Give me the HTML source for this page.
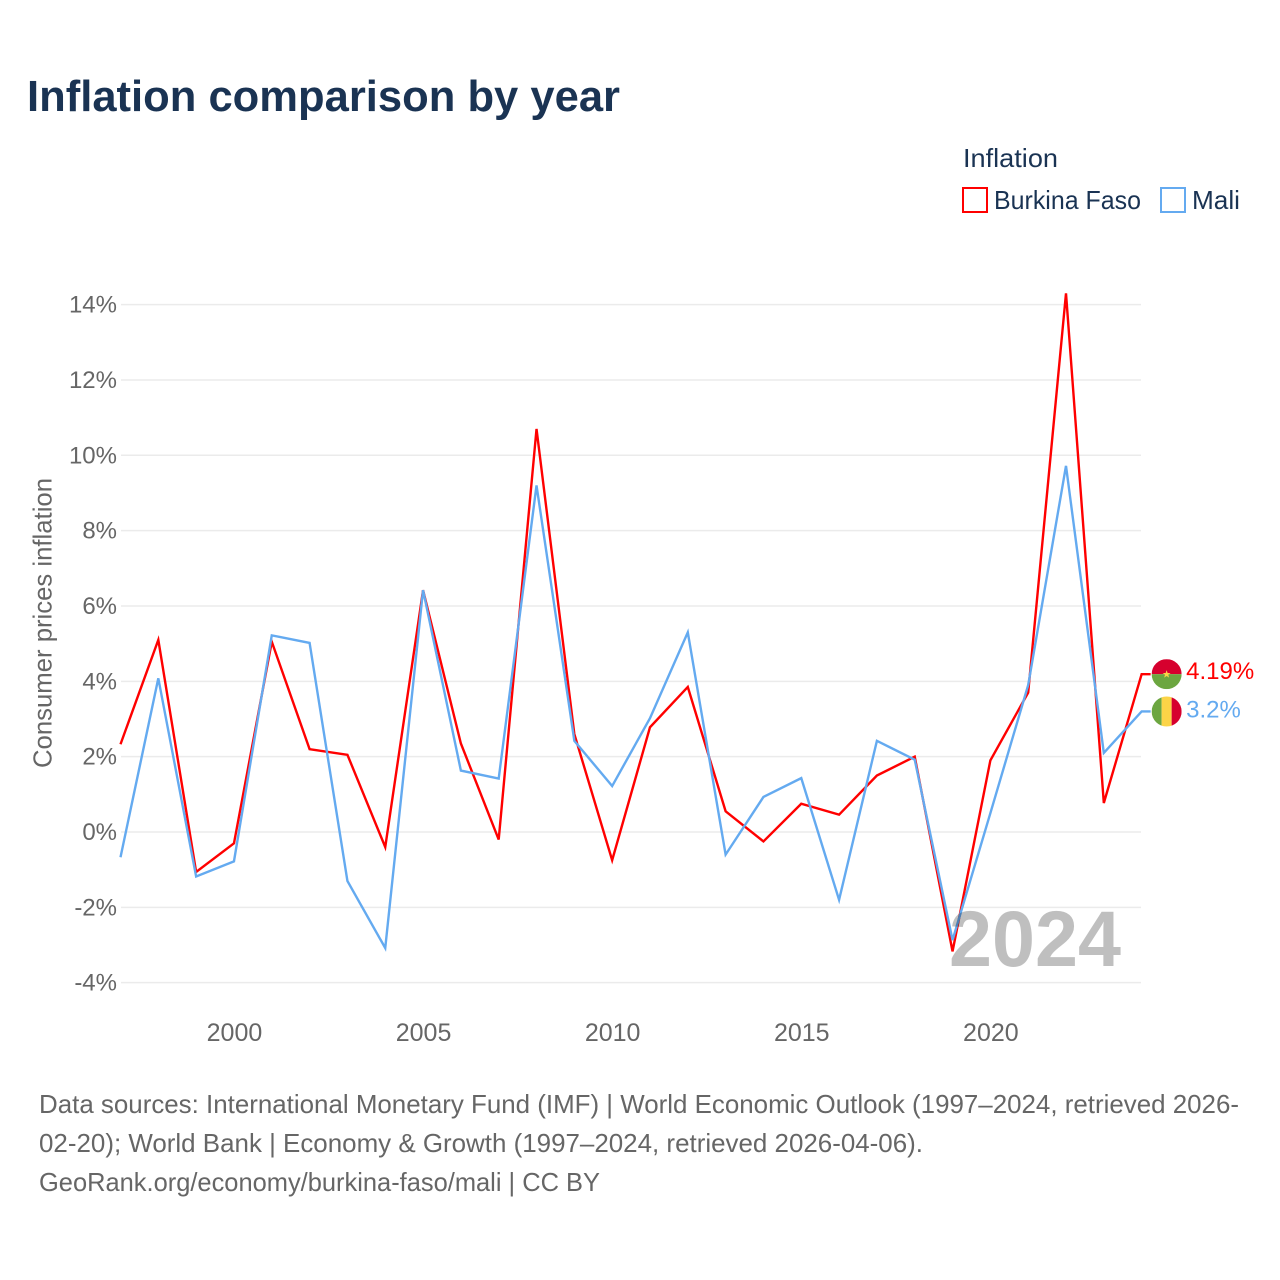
<!DOCTYPE html>
<html lang="en">
<head>
<meta charset="utf-8">
<title>Inflation comparison by year</title>
<style>
  html, body { margin: 0; padding: 0; background: #fff; }
  svg { display: block; font-family: "Liberation Sans", sans-serif; }
</style>
</head>
<body>
<svg id="chart" xmlns="http://www.w3.org/2000/svg" width="1280" height="1280" viewBox="0 0 1280 1280">
  <rect width="1280" height="1280" fill="#ffffff"/>
  <text x="27" y="111" font-size="44" font-weight="700" fill="#1a3353" textLength="593" lengthAdjust="spacingAndGlyphs">Inflation comparison by year</text>

  <g>
    <text x="963" y="167" font-size="26" fill="#1a3353" textLength="95" lengthAdjust="spacingAndGlyphs">Inflation</text>
    <rect x="963" y="188" width="24" height="24" fill="#fff" stroke="#ff0000" stroke-width="2"/>
    <text x="994" y="209" font-size="26" fill="#1a3353" textLength="147" lengthAdjust="spacingAndGlyphs">Burkina Faso</text>
    <rect x="1161" y="188" width="24" height="24" fill="#fff" stroke="#64aaf0" stroke-width="2"/>
    <text x="1192" y="209" font-size="26" fill="#1a3353" textLength="48" lengthAdjust="spacingAndGlyphs">Mali</text>
  </g>

  <text transform="translate(51.5,768) rotate(-90)" font-size="26" fill="#666666" textLength="290" lengthAdjust="spacingAndGlyphs">Consumer prices inflation</text>

  <g id="grid"></g>
  <g id="yticks"></g>
  <g id="xticks"></g>

  <g id="series"></g>
  <g id="endlabels"></g>

  <text x="949" y="966" font-size="79" font-weight="700" fill="#000000" fill-opacity="0.25" textLength="172" lengthAdjust="spacingAndGlyphs">2024</text>

  <g font-size="26" fill="#666666">
    <text x="39" y="1113" textLength="1200" lengthAdjust="spacingAndGlyphs">Data sources: International Monetary Fund (IMF) | World Economic Outlook (1997–2024, retrieved 2026-</text>
    <text x="39" y="1152" textLength="884" lengthAdjust="spacingAndGlyphs">02-20); World Bank | Economy &amp; Growth (1997–2024, retrieved 2026-04-06).</text>
    <text x="39" y="1191" textLength="561" lengthAdjust="spacingAndGlyphs">GeoRank.org/economy/burkina-faso/mali | CC BY</text>
  </g>
</svg>
<script>
const years = [1997,1998,1999,2000,2001,2002,2003,2004,2005,2006,2007,2008,2009,2010,2011,2012,2013,2014,2015,2016,2017,2018,2019,2020,2021,2022,2023,2024];
const burkinaFaso = [2.33,5.1,-1.06,-0.3,5.05,2.2,2.05,-0.4,6.42,2.35,-0.2,10.7,2.6,-0.75,2.78,3.85,0.55,-0.25,0.75,0.46,1.5,2.0,-3.17,1.9,3.7,14.3,0.77,4.19];
const mali = [-0.67,4.08,-1.18,-0.78,5.22,5.02,-1.3,-3.08,6.42,1.63,1.42,9.2,2.42,1.22,3.02,5.3,-0.6,0.93,1.43,-1.8,2.42,1.92,-2.87,0.5,3.9,9.72,2.1,3.2];
const yTickValues = [-4,-2,0,2,4,6,8,10,12,14];
const xTickValues = [2000,2005,2010,2015,2020];

const SVG_NS = 'http://www.w3.org/2000/svg';
function xScale(year) { return 120.5 + (year - 1997) * 37.82; }
function yScale(value) { return 832 - value * 37.67; }
function make(tag, parent) {
  const el = document.createElementNS(SVG_NS, tag);
  parent.appendChild(el);
  return el;
}
function linePoints(values) {
  const pts = values.map(function (v, i) { return xScale(years[i]).toFixed(2) + ',' + yScale(v).toFixed(2); });
  const last = values[values.length - 1];
  pts.push((xScale(years[years.length - 1]) + 9).toFixed(2) + ',' + yScale(last).toFixed(2));
  return pts.join(' ');
}

const gridGroup = document.getElementById('grid');
const yTickGroup = document.getElementById('yticks');
yTickValues.forEach(function (v) {
  const line = make('line', gridGroup);
  
  
  line.setAttribute('x1', 121);
  line.setAttribute('x2', 1141);
  line.setAttribute('y1', yScale(v));
  line.setAttribute('y2', yScale(v));
  line.setAttribute('stroke', '#ebebeb');
  line.setAttribute('stroke-width', '1.5');

  const label = make('text', yTickGroup);
  
  
  label.setAttribute('x', 117);
  label.setAttribute('y', yScale(v) + 8);
  label.setAttribute('text-anchor', 'end');
  label.setAttribute('font-size', '24');
  label.setAttribute('fill', '#666666');
  label.textContent = v + '%';
});

const xTickGroup = document.getElementById('xticks');
xTickValues.forEach(function (year) {
  const label = make('text', xTickGroup);
  
  
  label.setAttribute('x', xScale(year) + 0.5);
  label.setAttribute('y', 1041);
  label.setAttribute('text-anchor', 'middle');
  label.setAttribute('font-size', '25');
  label.setAttribute('fill', '#666666');
  label.textContent = String(year);
});

const seriesGroup = document.getElementById('series');
const burkinaLine = make('polyline', seriesGroup);


burkinaLine.setAttribute('points', linePoints(burkinaFaso));
burkinaLine.setAttribute('fill', 'none');
burkinaLine.setAttribute('stroke', '#ff0000');
burkinaLine.setAttribute('stroke-width', '2.4');

const maliLine = make('polyline', seriesGroup);


maliLine.setAttribute('points', linePoints(mali));
maliLine.setAttribute('fill', 'none');
maliLine.setAttribute('stroke', '#64aaf0');
maliLine.setAttribute('stroke-width', '2.4');

const endGroup = document.getElementById('endlabels');
const flagX = xScale(years[years.length - 1]) + 25;
const clip = make('clipPath', endGroup);
clip.setAttribute('id', 'flag-clip');
const clipCircle = make('circle', clip);
clipCircle.setAttribute('cx', 0);
clipCircle.setAttribute('cy', 0);
clipCircle.setAttribute('r', 15);

function flagStripe(parent, x, y, w, h, fill) {
  const r = make('rect', parent);
  r.setAttribute('x', x);
  r.setAttribute('y', y);
  r.setAttribute('width', w);
  r.setAttribute('height', h);
  r.setAttribute('fill', fill);
  return r;
}

const burkinaY = yScale(burkinaFaso[burkinaFaso.length - 1]);
const burkinaFlag = make('g', endGroup);


burkinaFlag.setAttribute('transform', 'translate(' + flagX + ',' + burkinaY + ')');
burkinaFlag.setAttribute('clip-path', 'url(#flag-clip)');
flagStripe(burkinaFlag, -15, -15, 30, 15, '#d6002e');
flagStripe(burkinaFlag, -15, 0, 30, 15, '#6ca640');
const star = make('polygon', burkinaFlag);


star.setAttribute('points', '0,-4 1,-1.2 4,-1.2 1.6,0.6 2.5,3.5 0,1.8 -2.5,3.5 -1.6,0.6 -4,-1.2 -1,-1.2');
star.setAttribute('fill', '#fcd447');

const burkinaValue = make('text', endGroup);


burkinaValue.setAttribute('x', flagX + 19.5);
burkinaValue.setAttribute('y', burkinaY + 5);
burkinaValue.setAttribute('font-size', '24');
burkinaValue.setAttribute('fill', '#ff0000');
burkinaValue.textContent = burkinaFaso[burkinaFaso.length - 1] + '%';

const maliY = yScale(mali[mali.length - 1]);
const maliFlag = make('g', endGroup);


maliFlag.setAttribute('transform', 'translate(' + flagX + ',' + maliY + ')');
maliFlag.setAttribute('clip-path', 'url(#flag-clip)');
flagStripe(maliFlag, -15, -15, 10, 30, '#6ca640');
flagStripe(maliFlag, -5, -15, 10, 30, '#fcd447');
flagStripe(maliFlag, 5, -15, 10, 30, '#d6002e');

const maliValue = make('text', endGroup);


maliValue.setAttribute('x', flagX + 19.5);
maliValue.setAttribute('y', maliY + 6);
maliValue.setAttribute('font-size', '24');
maliValue.setAttribute('fill', '#64aaf0');
maliValue.textContent = mali[mali.length - 1] + '%';
</script>
</body>
</html>
